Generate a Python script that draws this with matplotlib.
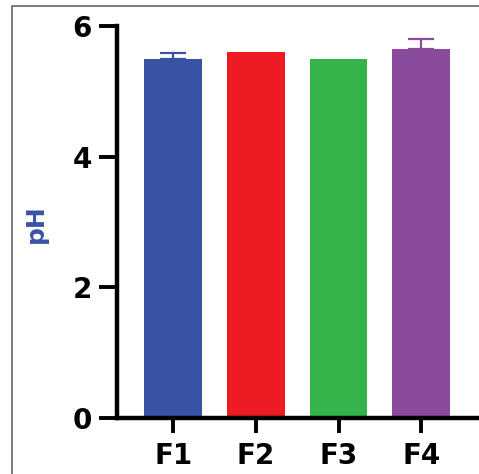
# pH of formulations F1-F4, bar chart with upper error bars
import matplotlib.pyplot as plt
from matplotlib.patches import Rectangle

formulations = ["F1", "F2", "F3", "F4"]
ph_mean = [5.5, 5.6, 5.5, 5.65]
ph_sd = [0.09, 0.0, 0.0, 0.15]
colors = ["#3953A4", "#ED1C24", "#33B34A", "#8A4B9D"]

fig = plt.figure(figsize=(4.79, 4.74), dpi=100)
ax = fig.add_axes([0.2443, 0.1181, 0.7557, 0.827])

x = range(len(formulations))
for i in x:
    ax.bar(i, ph_mean[i], width=0.7, color=colors[i], zorder=2)
    if ph_sd[i] > 0:
        ax.errorbar(i, ph_mean[i], yerr=[[0], [ph_sd[i]]], color=colors[i],
                    capsize=9.5, elinewidth=1.6, capthick=1.6, zorder=1)

ax.set_xlim(-0.68, 3.70)
ax.set_ylim(0, 6)
ax.set_yticks([0, 2, 4, 6])
ax.set_xticks(list(x))
ax.set_xticklabels(formulations)

for s in ["top", "right"]:
    ax.spines[s].set_visible(False)
for s in ["left", "bottom"]:
    ax.spines[s].set_linewidth(3.2)

ax.tick_params(axis="y", length=13, width=2.8, pad=5)
ax.tick_params(axis="x", length=11, width=2.8, pad=6)
for lbl in ax.get_xticklabels() + ax.get_yticklabels():
    lbl.set_fontsize(20)
    lbl.set_fontweight("heavy")
    lbl.set_family("DejaVu Sans")

ax.set_ylabel("pH", color="#3953A4", fontsize=18, fontweight="bold")
ax.yaxis.set_label_coords(-0.19, 0.495)

# thin grey frame around the figure
fig.add_artist(Rectangle((0.025, -0.2), 1.2, 1.187, transform=fig.transFigure,
                         fill=False, edgecolor="#666666", linewidth=1.2))

fig.savefig("out.png", dpi=100)
